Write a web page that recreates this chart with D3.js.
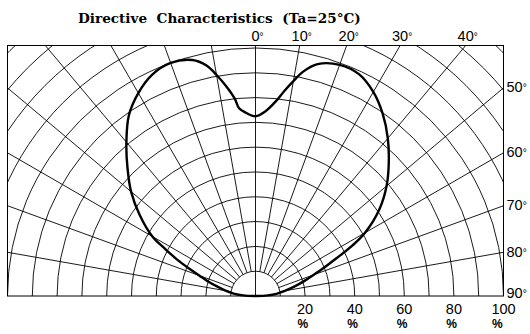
<!DOCTYPE html>
<html>
<head>
<meta charset="utf-8">
<script src="https://cdn.jsdelivr.net/npm/d3@7"></script>
<style>
  html, body { margin: 0; padding: 0; background: #fff; }
  svg { display: block; }
</style>
</head>
<body>
<svg id="chart" width="530" height="334"></svg>
<script>
// ---- data ----
const title = "Directive  Characteristics  (Ta=25°C)";
const angles = [-90, -87, -84, -80, -76, -73, -70, -67.5, -65, -62.5, -60, -55, -50, -45, -40, -35, -30, -25, -20, -15, -12, -10, -8, -6, -5, -3, 0,
                3, 6, 8, 10, 12, 15, 20, 25, 30, 35, 40, 45, 50, 55, 60, 62.5, 65, 67.5, 70, 73, 76, 80, 84, 87, 90];
const intensity = [0, 5, 8.5, 12, 16, 20, 24, 29, 35, 41, 48, 57, 65.5, 73, 81, 89, 94.5, 98.5, 100, 98.5, 95, 90.5, 85.5, 80, 76, 74, 72.5,
                   74.5, 79, 83.5, 88, 92.5, 96.8, 99.2, 98.7, 95, 89.5, 83, 76, 69, 61, 51, 44, 36, 30, 25, 20.5, 16.5, 12, 8.5, 5, 0];
const ringPercents = [10, 20, 30, 40, 50, 60, 70, 80, 90, 100, 110, 120, 130, 140, 150];
const spokeAngles = [-80, -70, -60, -50, -40, -30, -20, -10, 0, 10, 20, 30, 40, 50, 60, 70, 80];
const topAngleTicks = [0, 10, 20, 30, 40];
const sideAngleTicks = [50, 60, 70, 80, 90];
const percentTicks = [20, 40, 60, 80, 100];

// ---- layout ----
const svg = d3.select("#chart");
const cx = 255.5, cy = 296;
const box = { left: 7.5, right: 503.5, top: 45.5, bottom: 296 };
const r = d3.scaleLinear().domain([0, 100]).range([0, 248]);
const rad = d => d * Math.PI / 180;

svg.append("defs").append("clipPath").attr("id", "clip")
  .append("rect")
  .attr("x", box.left).attr("y", box.top)
  .attr("width", box.right - box.left).attr("height", box.bottom - box.top);

const grid = svg.append("g").attr("clip-path", "url(#clip)")
  .attr("fill", "none").attr("stroke", "#000").attr("stroke-width", 0.9);

// rings
grid.selectAll("path.ring").data(ringPercents).join("path")
  .attr("class", "ring")
  .attr("d", p => {
    const rr = r(p);
    const path = d3.path();
    path.moveTo(cx - rr, cy);
    path.arc(cx, cy, rr, Math.PI, 2 * Math.PI);
    return path.toString();
  });

// spokes
grid.selectAll("line.spoke").data(spokeAngles).join("line")
  .attr("class", "spoke")
  .attr("x1", a => cx + (a === 0 ? 0 : r(10)) * Math.sin(rad(a)))
  .attr("y1", a => cy - (a === 0 ? 0 : r(10)) * Math.cos(rad(a)))
  .attr("x2", a => cx + r(160) * Math.sin(rad(a)))
  .attr("y2", a => cy - r(160) * Math.cos(rad(a)));

// frame
svg.append("rect")
  .attr("x", box.left).attr("y", box.top)
  .attr("width", box.right - box.left).attr("height", box.bottom - box.top)
  .attr("fill", "none").attr("stroke", "#000").attr("stroke-width", 1);

// curve
const pts = angles.map((a, i) => [rad(a), r(intensity[i])]);
const line = d3.lineRadial().angle(d => d[0]).radius(d => d[1]).curve(d3.curveCatmullRom.alpha(0.5));
svg.append("path")
  .attr("transform", `translate(${cx},${cy})`)
  .attr("d", line(pts))
  .attr("fill", "none").attr("stroke", "#000").attr("stroke-width", 2.4)
  .attr("stroke-linejoin", "round");

// title
const t = svg.append("text")
  .attr("x", 78).attr("y", 23)
  .attr("font-family", "'DejaVu Serif', serif")
  .attr("font-weight", "bold")
  .attr("font-size", 13)
  .style("white-space", "pre")
  .attr("fill", "#000")
  .text(title);
const tl = t.node().getComputedTextLength();
t.attr("font-size", 13 * 283 / tl);

// angle labels
const labFont = "'Liberation Sans', Arial, sans-serif";
function degLabel(sel) {
  sel.append("tspan").text(a => a);
  sel.append("tspan").attr("font-size", 10).attr("dy", -1).text("°");
}
svg.selectAll("text.topang").data(topAngleTicks).join("text")
  .attr("class", "topang")
  .attr("x", a => cx + 2 + (cy - box.top) * Math.tan(rad(a)))
  .attr("y", box.top - 5)
  .attr("text-anchor", "middle")
  .attr("font-family", labFont).attr("font-size", 14.5)
  .call(degLabel);

svg.selectAll("text.sideang").data(sideAngleTicks).join("text")
  .attr("class", "sideang")
  .attr("x", box.right + 3)
  .attr("y", a => Math.min(cy - (box.right - cx) / Math.tan(rad(a)) + 4.5, cy + 1.5))
  .attr("font-family", labFont).attr("font-size", 14.5)
  .call(degLabel);

// percent labels
const pg = svg.selectAll("g.pct").data(percentTicks).join("g").attr("class", "pct");
pg.append("text")
  .attr("x", p => cx + r(p))
  .attr("y", 314)
  .attr("text-anchor", "middle")
  .attr("font-family", labFont).attr("font-size", 14.5)
  .text(p => p);
pg.each(function(p) {
  const g = d3.select(this);
  const bb = g.select("text").node().getBBox();
  g.append("text")
    .attr("x", bb.x + 0.5)
    .attr("y", 328)
    .attr("font-family", labFont).attr("font-size", 12).attr("font-weight", "bold")
    .text("%");
});
</script>
</body>
</html>
